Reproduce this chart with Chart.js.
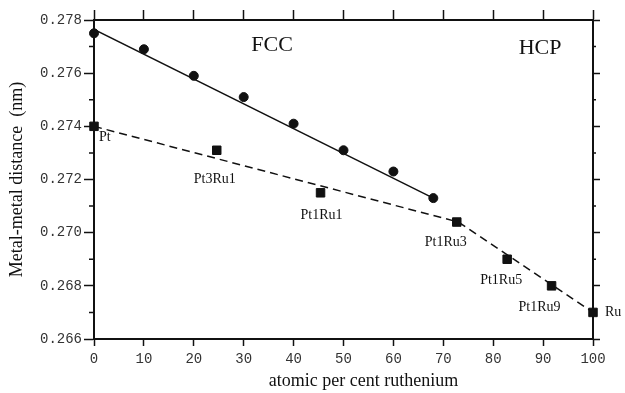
<!DOCTYPE html>
<html>
<head>
<meta charset="utf-8">
<script src="https://cdn.jsdelivr.net/npm/chart.js@4/dist/chart.umd.min.js"></script>
<style>
  html, body { margin: 0; padding: 0; background: #fff; }
  #wrap { width: 625px; height: 393px; }
</style>
</head>
<body>
<div id="wrap"><canvas id="alloy-chart" width="625" height="393"></canvas></div>
<script>
// measured lattice distances (circles) and alloy phases (squares)
var circleX = [0, 10, 20, 30, 40, 50, 60, 68];
var circleY = [0.2775, 0.2769, 0.2759, 0.2751, 0.2741, 0.2731, 0.2723, 0.2713];
var fitX = [0, 68];
var fitY = [0.27765, 0.2713];
var squareX = [0, 24.6, 45.4, 72.7, 82.8, 91.7, 100];
var squareY = [0.2740, 0.2731, 0.2715, 0.2704, 0.2690, 0.2680, 0.2670];
var squareNames = ["Pt", "Pt3Ru1", "Pt1Ru1", "Pt1Ru3", "Pt1Ru5", "Pt1Ru9", "Ru"];
var dashX = [0, 73, 100];
var dashY = [0.2740, 0.2704, 0.2670];
var phaseNames = ["FCC", "HCP"];
var phaseX = [35.7, 89.4];
var phaseY = [0.27706, 0.27695];
var xTicks = [0, 10, 20, 30, 40, 50, 60, 70, 80, 90, 100];
var yTicks = [0.266, 0.268, 0.270, 0.272, 0.274, 0.276, 0.278];

// label placement in px relative to the point [dx, dy, align]
var labelOffsets = [[5, 11, "left"], [-2, 29, "center"], [1, 23, "center"], [-11, 20, "center"],
                    [-6, 21, "center"], [-12, 21, "center"], [12, 0, "left"]];

function pts(xs, ys) {
    return xs.map(function(x, i) { return { x: x, y: ys[i] }; });
}

var ink = "#111";
var serif = "'Liberation Serif', 'DejaVu Serif', serif";
var mono = "'Liberation Mono', 'DejaVu Sans Mono', monospace";

var labelsPlugin = {
    id: "labels",
    afterDatasetsDraw: function(chart) {
        var ctx = chart.ctx, xs = chart.scales.x, ys = chart.scales.y;
        ctx.save();
        ctx.fillStyle = ink;
        ctx.textBaseline = "middle";
        ctx.font = "14px " + serif;
        squareNames.forEach(function(name, i) {
            var o = labelOffsets[i];
            ctx.textAlign = o[2];
            ctx.fillText(name, xs.getPixelForValue(squareX[i]) + o[0], ys.getPixelForValue(squareY[i]) + o[1]);
        });
        ctx.font = "22px " + serif;
        ctx.textAlign = "center";
        phaseNames.forEach(function(name, i) {
            ctx.fillText(name, xs.getPixelForValue(phaseX[i]), ys.getPixelForValue(phaseY[i]));
        });
        // x axis title, sits a little right of centre in the original
        ctx.font = "18px " + serif;
        ctx.fillText("atomic per cent ruthenium", (xs.left + xs.right) / 2 + 20, xs.bottom - 12);
        ctx.restore();
    },
    afterDraw: function(chart) {
        // minor ticks on the y axes
        var ctx = chart.ctx, ys = chart.scales.y, a = chart.chartArea;
        ctx.save();
        ctx.strokeStyle = ink;
        ctx.lineWidth = 1.5;
        for (var i = 0; i < yTicks.length - 1; i++) {
            var py = ys.getPixelForValue(yTicks[i] + 0.001);
            ctx.beginPath();
            ctx.moveTo(a.left - 5, py); ctx.lineTo(a.left, py);
            ctx.moveTo(a.right, py); ctx.lineTo(a.right + 3, py);
            ctx.stroke();
        }
        ctx.restore();
    }
};

var tickFont = { family: mono, size: 14 };

var scatterData = {
    datasets: [{
        label: "measured",
        data: pts(circleX, circleY),
        showLine: false,
        clip: false,
        pointStyle: "circle",
        pointRadius: 4.5,
        backgroundColor: ink,
        borderColor: ink
    }, {
        label: "fit",
        data: pts(fitX, fitY),
        showLine: true,
        pointRadius: 0,
        borderColor: ink,
        borderWidth: 1.5
    }, {
        label: "phases",
        data: pts(squareX, squareY),
        showLine: false,
        clip: false,
        pointStyle: "rect",
        pointRadius: 6,
        backgroundColor: ink,
        borderColor: ink
    }, {
        label: "trend",
        data: pts(dashX, dashY),
        showLine: true,
        pointRadius: 0,
        borderColor: ink,
        borderWidth: 1.5,
        borderDash: [8, 5]
    }]
};

var opts = {
    responsive: false,
    animation: false,
    layout: { padding: 0 },
    plugins: { legend: { display: false }, tooltip: { enabled: false } },
    scales: {
        x: {
            type: "linear", position: "bottom", min: 0, max: 100,
            afterBuildTicks: function(s) { s.ticks = xTicks.map(function(v) { return { value: v }; }); },
            afterFit: function(s) { s.height = 54; },
            border: { color: ink, width: 2 },
            grid: { drawOnChartArea: false, tickLength: 7, tickWidth: 1.5, tickColor: ink },
            ticks: { font: tickFont, color: "#333", padding: 5, maxRotation: 0 }
        },
        xTop: {
            type: "linear", position: "top", min: 0, max: 100,
            afterBuildTicks: function(s) { s.ticks = xTicks.map(function(v) { return { value: v }; }); },
            afterFit: function(s) { s.height = 20; },
            border: { color: ink, width: 2 },
            grid: { drawOnChartArea: false, tickLength: 10, tickWidth: 1.5, tickColor: ink },
            ticks: { display: false }
        },
        y: {
            type: "linear", position: "left", min: 0.266, max: 0.278,
            afterBuildTicks: function(s) { s.ticks = yTicks.map(function(v) { return { value: v }; }); },
            afterFit: function(s) { s.width = 94; },
            border: { color: ink, width: 2 },
            grid: { drawOnChartArea: false, tickLength: 10, tickWidth: 1.5, tickColor: ink },
            ticks: { font: tickFont, color: "#333", padding: 2, callback: function(v) { return v.toFixed(3); } },
            title: { display: true, text: "Metal-metal distance  (nm)", font: { family: serif, size: 18 }, color: ink, padding: { top: 6, bottom: 0 } }
        },
        yRight: {
            type: "linear", position: "right", min: 0.266, max: 0.278,
            afterBuildTicks: function(s) { s.ticks = yTicks.map(function(v) { return { value: v }; }); },
            afterFit: function(s) { s.width = 32; },
            border: { color: ink, width: 2 },
            grid: { drawOnChartArea: false, tickLength: 7, tickWidth: 1.5, tickColor: ink },
            ticks: { display: false }
        }
    }
};

var ctx = document.getElementById("alloy-chart").getContext("2d");
window.alloyChart = new Chart(ctx, { type: "scatter", data: scatterData, options: opts, plugins: [labelsPlugin] });
</script>
</body>
</html>
